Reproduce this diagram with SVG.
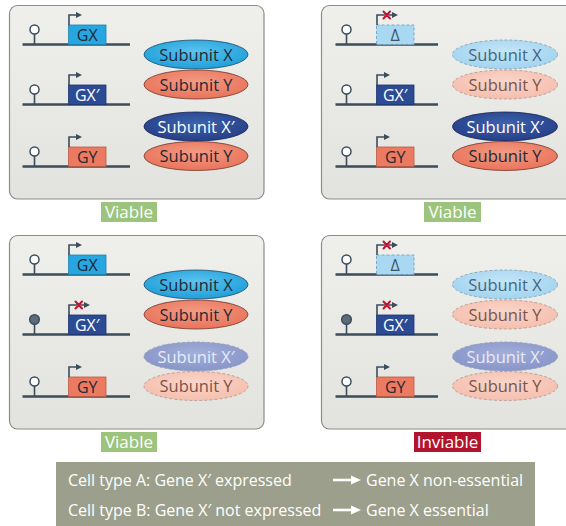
<svg xmlns="http://www.w3.org/2000/svg" width="566" height="526" viewBox="0 0 566 526">
  <defs>
    <linearGradient id="panelFill" x1="0" y1="0" x2="0" y2="1">
      <stop offset="0" stop-color="#efefec"/>
      <stop offset="1" stop-color="#e2e2de"/>
    </linearGradient>
    <radialGradient id="gX" cx="0.5" cy="0.4" r="0.6">
      <stop offset="0" stop-color="#5cc3ef"/>
      <stop offset="1" stop-color="#1f9fd9"/>
    </radialGradient>
    <radialGradient id="gY" cx="0.5" cy="0.4" r="0.6">
      <stop offset="0" stop-color="#f39b84"/>
      <stop offset="1" stop-color="#e9735a"/>
    </radialGradient>
    <radialGradient id="gXp" cx="0.5" cy="0.4" r="0.6">
      <stop offset="0" stop-color="#3d62ad"/>
      <stop offset="1" stop-color="#263f88"/>
    </radialGradient>
    <radialGradient id="gXf" cx="0.5" cy="0.4" r="0.6">
      <stop offset="0" stop-color="#c3e5f7"/>
      <stop offset="1" stop-color="#a3d4f0"/>
    </radialGradient>
    <radialGradient id="gYf" cx="0.5" cy="0.4" r="0.6">
      <stop offset="0" stop-color="#fad5ca"/>
      <stop offset="1" stop-color="#f5bfae"/>
    </radialGradient>
    <radialGradient id="gXpf" cx="0.5" cy="0.4" r="0.6">
      <stop offset="0" stop-color="#a3afd9"/>
      <stop offset="1" stop-color="#8795c9"/>
    </radialGradient>
  </defs>
  <style>
    text { font-family: "Open Sans", "Noto Sans", "DejaVu Sans", sans-serif; }
    .panel { fill: url(#panelFill); stroke: #8c8c8a; stroke-width: 1.2; }
    .dna { stroke: #3b4d5b; stroke-width: 2.6; fill: none; }
    .stem { stroke: #3b4d5b; stroke-width: 1.6; fill: none; }
    .pro { fill: #ffffff; stroke: #3b4d5b; stroke-width: 1.5; }
    .pro.on { fill: #5d6c78; }
    .tss { stroke: #3b4d5b; stroke-width: 1.6; fill: none; }
    .head { fill: #3b4d5b; }
    .cross { stroke: #c4122f; stroke-width: 2; stroke-linecap: round; }
    .boxX { fill: #27a6df; stroke: #1a83b5; stroke-width: 0.8; }
    .boxXp { fill: #2c4b95; stroke: #1c3371; stroke-width: 0.8; }
    .boxY { fill: #ec7a61; stroke: #b95a45; stroke-width: 0.8; }
    .boxD { fill: #a8d8f2; stroke: #7aa9c6; stroke-width: 1; stroke-dasharray: 3 2; }
    .gl { font-size: 16px; text-anchor: middle; fill: #1e2a35; }
    .gl.light { fill: #ffffff; }
    .gl.del { fill: #3e5566; }
    .sub { font-size: 16.5px; text-anchor: middle; fill: #1e2a35; }
    .sub.light { fill: #ffffff; }
    .sub.fX { fill: #45667d; }
    .sub.fY { fill: #7a5549; }
    .sub.fXp { fill: #e8ebf6; }
    .eX { fill: url(#gX); stroke: #1f4a66; stroke-width: 0.8; }
    .eY { fill: url(#gY); stroke: #6e3a2d; stroke-width: 0.8; }
    .eXp { fill: url(#gXp); stroke: #16254f; stroke-width: 0.8; }
    .eXf { fill: url(#gXf); stroke: #8aa3b3; stroke-width: 0.9; stroke-dasharray: 3 2; }
    .eYf { fill: url(#gYf); stroke: #b59b92; stroke-width: 0.9; stroke-dasharray: 3 2; }
    .eXpf { fill: url(#gXpf); stroke: #9aa0b8; stroke-width: 0.9; stroke-dasharray: 3 2; }
    .tag { font-size: 17px; text-anchor: middle; fill: #ffffff; }
    .viable { fill: #9cc47d; }
    .inviable { fill: #b3142d; }
    .legend { fill: #9c9f8c; }
    .lt { font-size: 16px; fill: #ffffff; }
    .arr { stroke: #ffffff; stroke-width: 2.6; fill: none; }
    .arrHead { fill: #ffffff; }
  </style>

  <!-- Panel 1: both paralogs present -->
  <g id="panel-tl">
    <rect class="panel" x="9.5" y="5.5" width="254.5" height="193.5" rx="8"/>
    <g id="tl-gene-gx">
      <line class="dna" x1="22.5" y1="44.5" x2="130" y2="44.5"/>
      <line class="stem" x1="34.5" y1="44.5" x2="34.5" y2="34"/>
      <circle class="pro" cx="34.5" cy="29.5" r="4.5"/>
      <rect class="boxX" x="68.5" y="25" width="37.5" height="19.5"/>
      <path class="tss" d="M69 25 V15 H77"/>
      <polygon class="head" points="76,12 82,15 76,18"/>
      <text class="gl" x="87.25" y="40.5">GX</text>
    </g>
    <g id="tl-gene-gxp">
      <line class="dna" x1="22.5" y1="104.5" x2="130" y2="104.5"/>
      <line class="stem" x1="34.5" y1="104.5" x2="34.5" y2="94"/>
      <circle class="pro" cx="34.5" cy="89.5" r="4.5"/>
      <rect class="boxXp" x="68.5" y="85" width="37.5" height="19.5"/>
      <path class="tss" d="M69 85 V75 H77"/>
      <polygon class="head" points="76,72 82,75 76,78"/>
      <text class="gl light" x="87.25" y="100.5">GX′</text>
    </g>
    <g id="tl-gene-gy">
      <line class="dna" x1="22.5" y1="166.5" x2="130" y2="166.5"/>
      <line class="stem" x1="34.5" y1="166.5" x2="34.5" y2="156"/>
      <circle class="pro" cx="34.5" cy="151.5" r="4.5"/>
      <rect class="boxY" x="68.5" y="147" width="37.5" height="19.5"/>
      <path class="tss" d="M69 147 V137 H77"/>
      <polygon class="head" points="76,134 82,137 76,140"/>
      <text class="gl" x="87.25" y="162.5">GY</text>
    </g>
    <g id="tl-subunit-x">
      <ellipse class="eX" cx="196" cy="54.5" rx="52" ry="14.5"/>
      <text class="sub" x="196" y="60.5">Subunit X</text>
    </g>
    <g id="tl-subunit-y1">
      <ellipse class="eY" cx="196" cy="84.5" rx="52" ry="14.5"/>
      <text class="sub" x="196" y="90.5">Subunit Y</text>
    </g>
    <g id="tl-subunit-xp">
      <ellipse class="eXp" cx="196" cy="126.5" rx="52" ry="14.5"/>
      <text class="sub light" x="196" y="132.5">Subunit X′</text>
    </g>
    <g id="tl-subunit-y2">
      <ellipse class="eY" cx="196" cy="156" rx="52" ry="14.5"/>
      <text class="sub" x="196" y="162">Subunit Y</text>
    </g>
  </g>
  <g id="tag-tl">
    <rect class="viable" x="101" y="202" width="56" height="20"/>
    <text class="tag" x="129" y="218">Viable</text>
  </g>

  <!-- Panel 2: gene X deleted, X' expressed -->
  <g id="panel-tr" transform="translate(309,0)">
    <rect class="panel" x="12.5" y="5.5" width="262" height="193.5" rx="8"/>
    <g id="tr-gene-delta">
      <line class="dna" x1="26.5" y1="44.5" x2="129" y2="44.5"/>
      <line class="stem" x1="37.5" y1="44.5" x2="37.5" y2="34"/>
      <circle class="pro" cx="37.5" cy="29.5" r="4.5"/>
      <rect class="boxD" x="67.5" y="25" width="37.5" height="19.5"/>
      <path class="tss" d="M68 25 V15 H84"/>
      <polygon class="head" points="83,12 89,15 83,18"/>
      <path class="cross" d="M74.5 11.5 L81 18.5 M81 11.5 L74.5 18.5"/>
      <text class="gl del" x="86.25" y="40.5">Δ</text>
    </g>
    <g id="tr-gene-gxp">
      <line class="dna" x1="26.5" y1="104.5" x2="129" y2="104.5"/>
      <line class="stem" x1="37.5" y1="104.5" x2="37.5" y2="94"/>
      <circle class="pro" cx="37.5" cy="89.5" r="4.5"/>
      <rect class="boxXp" x="67.5" y="85" width="37.5" height="19.5"/>
      <path class="tss" d="M68 85 V75 H76"/>
      <polygon class="head" points="75,72 81,75 75,78"/>
      <text class="gl light" x="86.25" y="100.5">GX′</text>
    </g>
    <g id="tr-gene-gy">
      <line class="dna" x1="26.5" y1="166.5" x2="129" y2="166.5"/>
      <line class="stem" x1="37.5" y1="166.5" x2="37.5" y2="156"/>
      <circle class="pro" cx="37.5" cy="151.5" r="4.5"/>
      <rect class="boxY" x="67.5" y="147" width="37.5" height="19.5"/>
      <path class="tss" d="M68 147 V137 H76"/>
      <polygon class="head" points="75,134 81,137 75,140"/>
      <text class="gl" x="86.25" y="162.5">GY</text>
    </g>
    <g id="tr-subunit-x">
      <ellipse class="eXf" cx="196" cy="54.5" rx="52.5" ry="14.5"/>
      <text class="sub fX" x="196" y="60.5">Subunit X</text>
    </g>
    <g id="tr-subunit-y1">
      <ellipse class="eYf" cx="196" cy="84.5" rx="52.5" ry="14.5"/>
      <text class="sub fY" x="196" y="90.5">Subunit Y</text>
    </g>
    <g id="tr-subunit-xp">
      <ellipse class="eXp" cx="196" cy="126.5" rx="52.5" ry="14.5"/>
      <text class="sub light" x="196" y="132.5">Subunit X′</text>
    </g>
    <g id="tr-subunit-y2">
      <ellipse class="eY" cx="196" cy="156" rx="52.5" ry="14.5"/>
      <text class="sub" x="196" y="162">Subunit Y</text>
    </g>
  </g>
  <g id="tag-tr">
    <rect class="viable" x="424" y="202" width="57" height="20"/>
    <text class="tag" x="452.5" y="218">Viable</text>
  </g>

  <!-- Panel 3: X' silenced, gene X present -->
  <g id="panel-bl" transform="translate(0,230)">
    <rect class="panel" x="9.5" y="5.5" width="254.5" height="193.5" rx="8"/>
    <g id="bl-gene-gx">
      <line class="dna" x1="22.5" y1="44.5" x2="130" y2="44.5"/>
      <line class="stem" x1="34.5" y1="44.5" x2="34.5" y2="34"/>
      <circle class="pro" cx="34.5" cy="29.5" r="4.5"/>
      <rect class="boxX" x="68.5" y="25" width="37.5" height="19.5"/>
      <path class="tss" d="M69 25 V15 H77"/>
      <polygon class="head" points="76,12 82,15 76,18"/>
      <text class="gl" x="87.25" y="40.5">GX</text>
    </g>
    <g id="bl-gene-gxp">
      <line class="dna" x1="22.5" y1="104.5" x2="130" y2="104.5"/>
      <line class="stem" x1="34.5" y1="104.5" x2="34.5" y2="94"/>
      <circle class="pro on" cx="34.5" cy="89.5" r="4.8"/>
      <rect class="boxXp" x="68.5" y="85" width="37.5" height="19.5"/>
      <path class="tss" d="M69 85 V75 H85"/>
      <polygon class="head" points="84,72 90,75 84,78"/>
      <path class="cross" d="M75.5 71.5 L82 78.5 M82 71.5 L75.5 78.5"/>
      <text class="gl light" x="87.25" y="100.5">GX′</text>
    </g>
    <g id="bl-gene-gy">
      <line class="dna" x1="22.5" y1="166.5" x2="130" y2="166.5"/>
      <line class="stem" x1="34.5" y1="166.5" x2="34.5" y2="156"/>
      <circle class="pro" cx="34.5" cy="151.5" r="4.5"/>
      <rect class="boxY" x="68.5" y="147" width="37.5" height="19.5"/>
      <path class="tss" d="M69 147 V137 H77"/>
      <polygon class="head" points="76,134 82,137 76,140"/>
      <text class="gl" x="87.25" y="162.5">GY</text>
    </g>
    <g id="bl-subunit-x">
      <ellipse class="eX" cx="196" cy="54.5" rx="52" ry="14.5"/>
      <text class="sub" x="196" y="60.5">Subunit X</text>
    </g>
    <g id="bl-subunit-y1">
      <ellipse class="eY" cx="196" cy="84.5" rx="52" ry="14.5"/>
      <text class="sub" x="196" y="90.5">Subunit Y</text>
    </g>
    <g id="bl-subunit-xp">
      <ellipse class="eXpf" cx="196" cy="126.5" rx="52" ry="14.5"/>
      <text class="sub fXp" x="196" y="132.5">Subunit X′</text>
    </g>
    <g id="bl-subunit-y2">
      <ellipse class="eYf" cx="196" cy="156" rx="52" ry="14.5"/>
      <text class="sub fY" x="196" y="162">Subunit Y</text>
    </g>
  </g>
  <g id="tag-bl">
    <rect class="viable" x="101" y="432" width="56" height="20"/>
    <text class="tag" x="129" y="448">Viable</text>
  </g>

  <!-- Panel 4: X deleted and X' silenced -->
  <g id="panel-br" transform="translate(309,230)">
    <rect class="panel" x="12.5" y="5.5" width="262" height="193.5" rx="8"/>
    <g id="br-gene-delta">
      <line class="dna" x1="26.5" y1="44.5" x2="129" y2="44.5"/>
      <line class="stem" x1="37.5" y1="44.5" x2="37.5" y2="34"/>
      <circle class="pro" cx="37.5" cy="29.5" r="4.5"/>
      <rect class="boxD" x="67.5" y="25" width="37.5" height="19.5"/>
      <path class="tss" d="M68 25 V15 H84"/>
      <polygon class="head" points="83,12 89,15 83,18"/>
      <path class="cross" d="M74.5 11.5 L81 18.5 M81 11.5 L74.5 18.5"/>
      <text class="gl del" x="86.25" y="40.5">Δ</text>
    </g>
    <g id="br-gene-gxp">
      <line class="dna" x1="26.5" y1="104.5" x2="129" y2="104.5"/>
      <line class="stem" x1="37.5" y1="104.5" x2="37.5" y2="94"/>
      <circle class="pro on" cx="37.5" cy="89.5" r="4.8"/>
      <rect class="boxXp" x="67.5" y="85" width="37.5" height="19.5"/>
      <path class="tss" d="M68 85 V75 H84"/>
      <polygon class="head" points="83,72 89,75 83,78"/>
      <path class="cross" d="M74.5 71.5 L81 78.5 M81 71.5 L74.5 78.5"/>
      <text class="gl light" x="86.25" y="100.5">GX′</text>
    </g>
    <g id="br-gene-gy">
      <line class="dna" x1="26.5" y1="166.5" x2="129" y2="166.5"/>
      <line class="stem" x1="37.5" y1="166.5" x2="37.5" y2="156"/>
      <circle class="pro" cx="37.5" cy="151.5" r="4.5"/>
      <rect class="boxY" x="67.5" y="147" width="37.5" height="19.5"/>
      <path class="tss" d="M68 147 V137 H76"/>
      <polygon class="head" points="75,134 81,137 75,140"/>
      <text class="gl" x="86.25" y="162.5">GY</text>
    </g>
    <g id="br-subunit-x">
      <ellipse class="eXf" cx="196" cy="54.5" rx="52.5" ry="14.5"/>
      <text class="sub fX" x="196" y="60.5">Subunit X</text>
    </g>
    <g id="br-subunit-y1">
      <ellipse class="eYf" cx="196" cy="84.5" rx="52.5" ry="14.5"/>
      <text class="sub fY" x="196" y="90.5">Subunit Y</text>
    </g>
    <g id="br-subunit-xp">
      <ellipse class="eXpf" cx="196" cy="126.5" rx="52.5" ry="14.5"/>
      <text class="sub fXp" x="196" y="132.5">Subunit X′</text>
    </g>
    <g id="br-subunit-y2">
      <ellipse class="eYf" cx="196" cy="156" rx="52.5" ry="14.5"/>
      <text class="sub fY" x="196" y="162">Subunit Y</text>
    </g>
  </g>
  <g id="tag-br">
    <rect class="inviable" x="414" y="432" width="67" height="20"/>
    <text class="tag" x="447.5" y="448">Inviable</text>
  </g>

  <!-- Summary box -->
  <g id="legend">
    <rect class="legend" x="56" y="462" width="479" height="70"/>
    <text class="lt" x="68" y="486">Cell type A: Gene X′ expressed</text>
    <text class="lt" x="366" y="486">Gene X non-essential</text>
    <text class="lt" x="68" y="516">Cell type B: Gene X′ not expressed</text>
    <text class="lt" x="366" y="516">Gene X essential</text>
  </g>
  <g id="connectors">
    <line class="arr" x1="333" y1="480" x2="353" y2="480"/>
    <polygon class="arrHead" points="351,475.5 361,480 351,484.5"/>
    <line class="arr" x1="333" y1="510" x2="353" y2="510"/>
    <polygon class="arrHead" points="351,505.5 361,510 351,514.5"/>
  </g>
</svg>
